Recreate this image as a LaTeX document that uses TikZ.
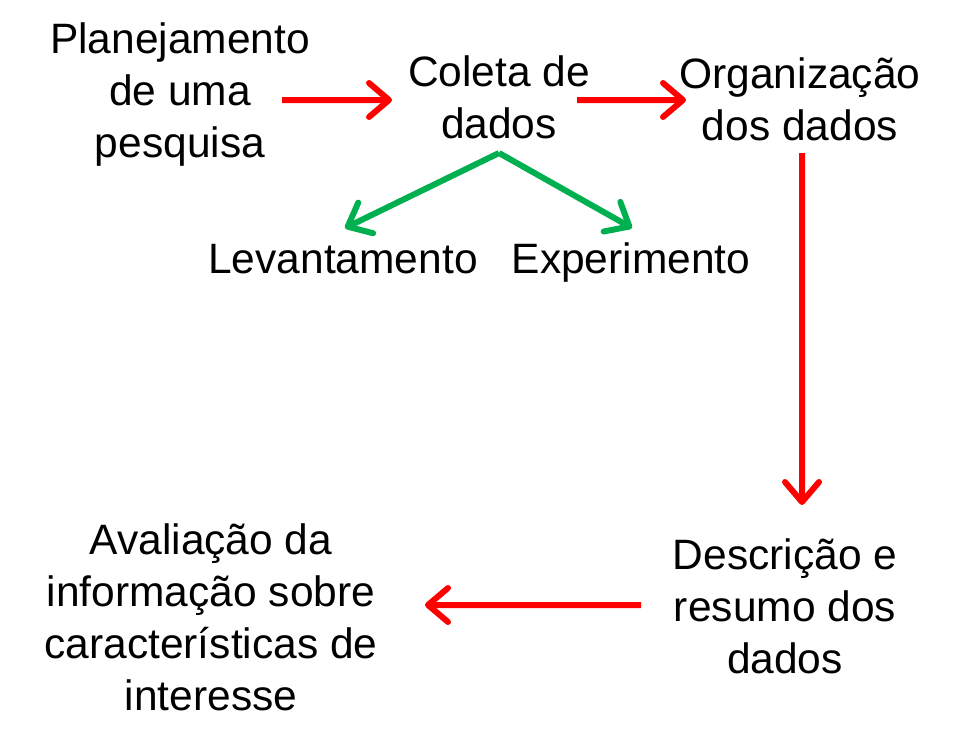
\documentclass[tikz,border=0pt]{standalone}
\usepackage{fontspec}
\setmainfont{Liberation Sans}
\usetikzlibrary{arrows.meta, positioning}

\definecolor{pptgreen}{RGB}{0,176,80}

\begin{document}
\begin{tikzpicture}[
		x=1bp, y=-1bp,
		every node/.style={align=center, inner sep=0pt, font=\fontsize{42.5bp}{52bp}\selectfont},
		redarrow/.style={draw=red, line width=6bp, -{Straight Barb[length=20bp, width=34bp, round]}},
		greenarrow/.style={draw=pptgreen, line width=6bp, -{Straight Barb[length=20bp, width=34bp, round]}}
		]
		\useasboundingbox (0,0) rectangle (959,745);
		% Texts
		\node at (180,95) (plan) {Planejamento\\de uma\\pesquisa};
		\node at (499,97) (coleta) {Coleta de\\dados};
		\node at (800,99) (org) {Organização\\dos dados};
		\node[anchor=base] at (343,273) (lev) {Levantamento};
		\node[anchor=base] at (631,273) (exp) {Experimento};
		\node at (785,606) (desc) {Descrição e\\resumo dos\\dados};
		\node at (211,617) (aval) {Avaliação da\\informação sobre\\características de\\interesse};
		% draw arrows
		\draw[redarrow] ([xshift=102bp,yshift=-5bp]plan.center) -- ([xshift=-107bp,yshift=-3bp]coleta.center);
		\draw[redarrow] ([xshift=78bp,yshift=-3bp]coleta.center) -- ([xshift=-114bp,yshift=-1bp]org.center);
		\draw[redarrow] ([xshift=2bp,yshift=-54bp]org.center) -- ([xshift=17bp,yshift=101bp]desc.center);
		\draw[redarrow] ([xshift=-144bp,yshift=1bp]desc.center) -- ([xshift=214bp,yshift=12bp]aval.center);
		\draw[greenarrow] ([yshift=-56bp]coleta.center) -- ([xshift=2bp,yshift=45bp]lev.base);
		\draw[greenarrow] ([yshift=-56bp]coleta.center) -- ([xshift=1bp,yshift=45bp]exp.base);
	\end{tikzpicture}
\end{document}
